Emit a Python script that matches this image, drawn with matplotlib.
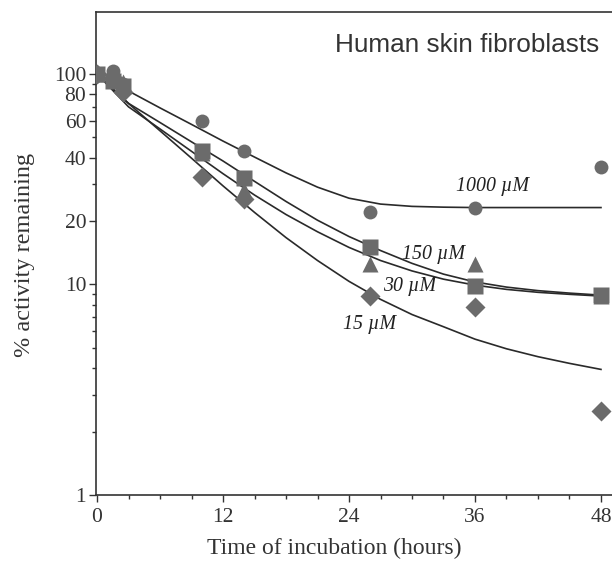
import matplotlib
matplotlib.use('Agg')
import matplotlib.pyplot as plt
from matplotlib.ticker import FixedLocator, NullFormatter

# measured points (hours, % activity remaining)
hours = [0, 1.5, 2.5, 10, 14, 26, 36, 48]
act_1000 = [100, 103, 90, 60, 43, 22, 23, 36]
act_150 = [100, 93, 88, 43, 32, 15, 9.8, 8.9]
act_30 = [100, 100, 92, 42, 28, 12.5, 12.5, 8.8]
act_15 = [100, 96, 82, 32.5, 25.5, 8.8, 7.8, 2.5]

# fitted curves, every 3 h
fit_hours = [0, 3, 6, 9, 12, 15, 18, 21, 24, 27, 30, 33, 36, 39, 42, 45, 48]
fit_1000 = [100, 83, 69, 57.6, 48, 40.3, 33.9, 29.0, 25.7, 24.1, 23.5, 23.3, 23.2, 23.2, 23.2, 23.2, 23.2]
fit_150 = [100, 72.5, 58.8, 47.6, 38.6, 30.9, 24.8, 20.2, 16.9, 14.5, 12.6, 11.2, 10.28, 9.72, 9.35, 9.1, 8.9]
fit_30 = [100, 69.8, 54.8, 42.9, 33.6, 26.6, 21.5, 17.8, 15.0, 13.0, 11.6, 10.6, 9.93, 9.48, 9.18, 8.98, 8.81]
fit_15 = [100, 72.4, 53.7, 39.8, 29.4, 22.0, 16.7, 13.0, 10.35, 8.5, 7.2, 6.3, 5.5, 4.95, 4.54, 4.22, 3.95]

y_major = [1, 10, 20, 40, 60, 80, 100]
y_minor = [2, 3, 4, 5, 6, 7, 8, 9, 30, 50, 70, 90]

serif = 'Liberation Serif'
gray = '#6b6b6b'
line = '#2a2a2a'

fig = plt.figure(figsize=(6.12, 5.66), dpi=100)
ax = fig.add_axes([96 / 612, 1 - 495 / 566, 1 - 96 / 612, (495 - 12) / 566])

for fy in [fit_1000, fit_150, fit_30, fit_15]:
    ax.plot(fit_hours, fy, color=line, lw=1.2, zorder=2, solid_joinstyle='round')

ax.plot(hours, act_1000, 'o', color=gray, ms=10, mec='none', zorder=3)
ax.plot(hours, act_150, 's', color=gray, ms=11, mec='none', zorder=3)
ax.plot(hours, act_30, '^', color=gray, ms=11, mec='none', zorder=3)
ax.plot(hours, act_15, 'D', color=gray, ms=10, mec='none', zorder=3)

ax.set_yscale('log')
ax.set_ylim(1, 197)
ax.set_xlim(-0.1, 49.05)
ax.yaxis.set_major_locator(FixedLocator(y_major))
ax.yaxis.set_minor_locator(FixedLocator(y_minor))
ax.yaxis.set_minor_formatter(NullFormatter())
ax.set_yticklabels([str(v) for v in y_major])
ax.set_xticks([0, 12, 24, 36, 48])
ax.set_xticks(list(range(0, 49, 3)), minor=True)

ax.spines['right'].set_visible(False)
for s in ['left', 'bottom', 'top']:
    ax.spines[s].set_linewidth(1.2)
    ax.spines[s].set_color('#333333')

ax.tick_params(which='major', direction='out', length=5, width=1, colors='#333333',
               labelsize=15.5, pad=2)
ax.tick_params(which='minor', direction='out', length=3, width=1, colors='#333333')
ax.tick_params(axis='x', pad=4)
for lab in ax.get_xticklabels() + ax.get_yticklabels():
    lab.set_fontfamily(serif)

# series labels
lab_kw = dict(fontfamily=serif, fontstyle='italic', fontsize=14.3, color='#222222',
              va='center')
ax.text(34.2, 10 ** ((495 - 187) / 210.5), '1000 \u00b5M', **lab_kw)
ax.text(29.0, 10 ** ((495 - 255) / 210.5), '150 \u00b5M', **lab_kw)
ax.text(27.2, 10 ** ((495 - 287) / 210.5), '30 \u00b5M', **lab_kw)
ax.text(23.4, 10 ** ((495 - 325) / 210.5), '15 \u00b5M', **lab_kw)

fig.text(335 / 612, 1 - 45 / 566, 'Human skin fibroblasts', fontfamily='Liberation Sans',
         fontsize=18.8, color='#333333', va='center', ha='left')
fig.text(334 / 612, 1 - 548 / 566, 'Time of incubation (hours)', fontfamily=serif,
         fontsize=17, color='#333333', ha='center', va='center')
fig.text(25 / 612, 1 - 255 / 566, '% activity remaining', fontfamily=serif,
         fontsize=17.5, color='#333333', ha='center', va='center', rotation=90)

fig.savefig('out.png', dpi=100)
